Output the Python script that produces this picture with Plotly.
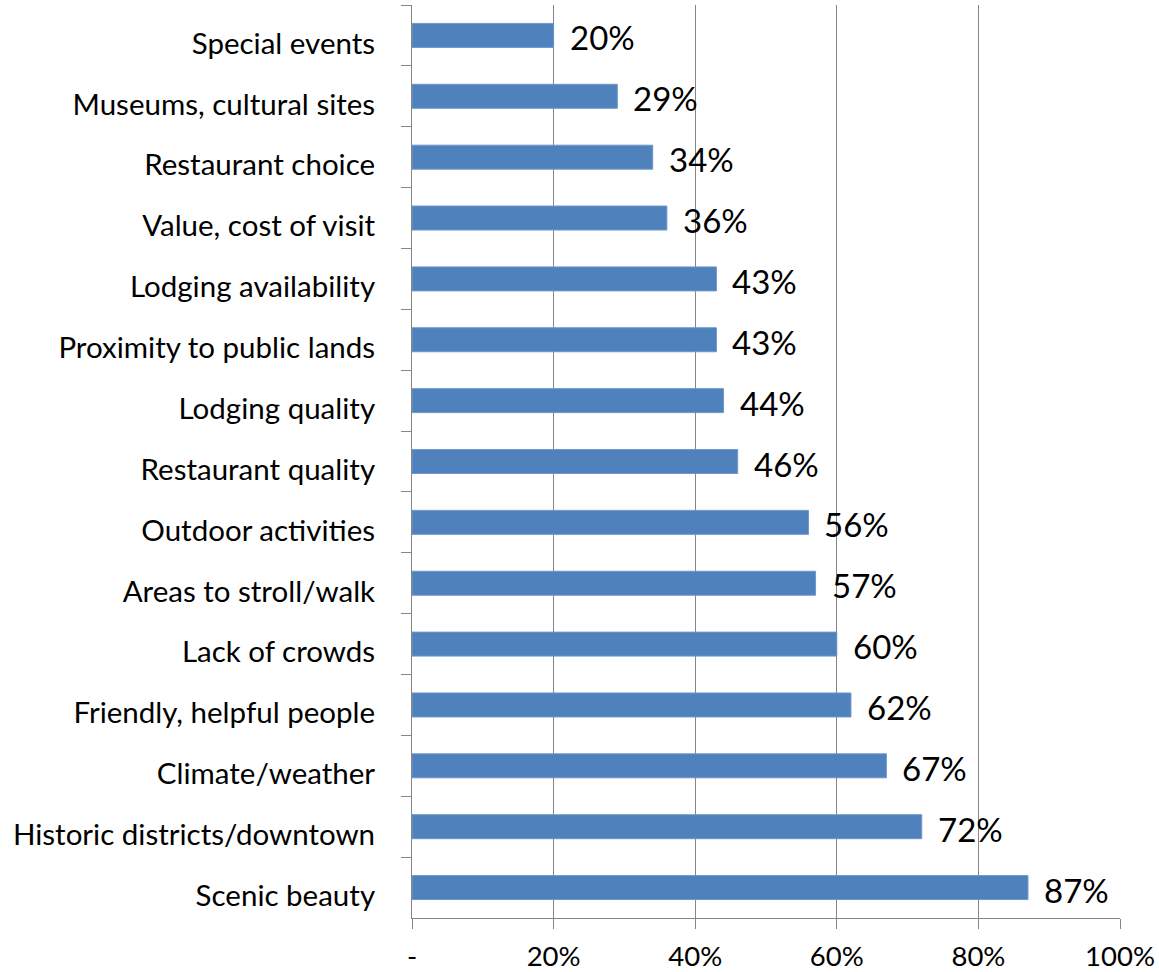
import plotly.graph_objects as go

# Survey factors, listed top to bottom, with share of respondents (%)
factors = [
    "Special events",
    "Museums, cultural sites",
    "Restaurant choice",
    "Value, cost of visit",
    "Lodging availability",
    "Proximity to public lands",
    "Lodging quality",
    "Restaurant quality",
    "Outdoor activities",
    "Areas to stroll/walk",
    "Lack of crowds",
    "Friendly, helpful people",
    "Climate/weather",
    "Historic districts/downtown",
    "Scenic beauty",
]
shares = [20, 29, 34, 36, 43, 43, 44, 46, 56, 57, 60, 62, 67, 72, 87]

x_tickvals = [0, 20, 40, 60, 80, 100]
x_ticktext = ["-", "20%", "40%", "60%", "80%", "100%"]

FONT = "Lato, 'Open Sans', sans-serif"
AXIS_GRAY = "#868686"

fig = go.Figure(
    go.Bar(
        x=shares,
        y=factors,
        orientation="h",
        marker=dict(color="#4F81BD", line=dict(color="#6F97C9", width=1)),
        hoverinfo="x+y",
    )
)

# Percentage labels placed just right of each bar end
for f, v in zip(factors, shares):
    fig.add_annotation(
        x=v, y=f, text=f"{v}%", showarrow=False,
        xanchor="left", yanchor="middle", xshift=14, yshift=-2,
        font=dict(family=FONT, size=33, color="black"),
    )

fig.update_layout(
    width=1159,
    height=972,
    margin=dict(l=412, r=39, t=5, b=54),
    paper_bgcolor="white",
    plot_bgcolor="white",
    bargap=0.606,
    showlegend=False,
    font=dict(family=FONT, color="black"),
)

fig.update_xaxes(
    range=[0, 100],
    tickvals=x_tickvals,
    ticktext=x_ticktext,
    showgrid=True,
    gridcolor=AXIS_GRAY,
    gridwidth=1,
    zeroline=False,
    showline=True,
    linecolor=AXIS_GRAY,
    linewidth=1,
    ticks="outside",
    ticklen=10,
    tickcolor=AXIS_GRAY,
    tickfont=dict(family=FONT, size=27.5, color="black"),
    ticklabelstandoff=4,
    automargin=False,
)

fig.update_yaxes(
    autorange="reversed",
    showgrid=False,
    zeroline=False,
    showline=True,
    linecolor=AXIS_GRAY,
    linewidth=1,
    ticks="outside",
    tickson="boundaries",
    ticklen=10,
    tickcolor=AXIS_GRAY,
    tickfont=dict(family=FONT, size=29.5, color="black"),
    ticklabelstandoff=30,
    ticklabelshift=-8,
    automargin=False,
)

fig.write_html("out.html")
